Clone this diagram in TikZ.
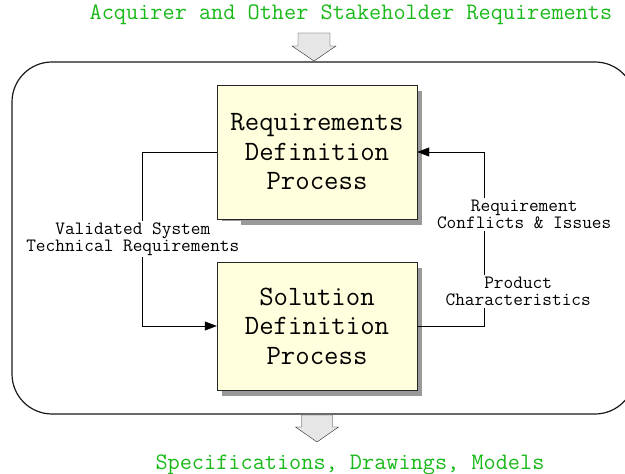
\documentclass[tikz,border=0pt]{standalone}
\usepackage{fontspec}
\usetikzlibrary{arrows.meta,shadows}
\definecolor{boxyellow}{RGB}{255,255,221}
\definecolor{flowgreen}{RGB}{25,185,25}
\definecolor{arrowgray}{RGB}{230,230,230}

\begin{document}
\begin{tikzpicture}[
  x=1pt, y=1pt,
  node distance=174pt,
  process/.style={draw=black!85, fill=boxyellow, minimum width=200pt, align=center, inner sep=0pt,
    font=\ttfamily\fontsize{28}{29.5}\selectfont,
    drop shadow={shadow xshift=5pt, shadow yshift=-6pt, fill=black!40, opacity=1}},
  flowlabel/.style={fill=white, align=center, inner sep=2pt, font=\ttfamily\fontsize{18.8}{17}\selectfont},
  outside/.style={text=flowgreen, font=\ttfamily\fontsize{23.6}{24}\selectfont},
  arrow/.style={-{Triangle[length=12pt,width=9pt]}, thin},
  blockarrow/.style={draw=black!85, fill=arrowgray, line join=miter}
]
\useasboundingbox (0,0) rectangle (625,474);
\draw[black!90, line width=1.2pt, rounded corners=40pt] (12,60) rectangle (635,412);

\node[outside] (stake) at (351,459) {Acquirer and Other Stakeholder Requirements};
\node[outside] (specs) at (350,9) {Specifications, Drawings, Models};

\node[process, minimum height=134pt] (req) at (317,322) {Requirements\\Definition\\Process};
\node[process, minimum height=128pt] (sol) [below of=req] {Solution\\Definition\\Process};

% big in/out arrows
\coordinate (intip) at (314,413);
\draw[blockarrow] (intip) -- ++(-22,15) -- ++(6,0) -- ++(0,13) -- ++(32,0) -- ++(0,-13) -- ++(6,0) -- cycle;
\coordinate (outtip) at (317,32);
\draw[blockarrow] (outtip) -- ++(-21.5,15) -- ++(6,0) -- ++(0,12) -- ++(31,0) -- ++(0,-12) -- ++(6,0) -- cycle;

\draw[arrow] (req.west) -- ++(-75,0) |- node[flowlabel, pos=0.25, xshift=-9pt] (valid) {Validated System\\Technical Requirements} (sol.west);
\draw[arrow] (sol.east) -- ++(67,0) |- node[flowlabel, pos=0.1, xshift=34pt] (prodchar) {Product\\Characteristics}
  node[flowlabel, pos=0.32, xshift=40pt] (conflicts) {Requirement\\Conflicts \& Issues} (req.east);
\end{tikzpicture}
\end{document}
